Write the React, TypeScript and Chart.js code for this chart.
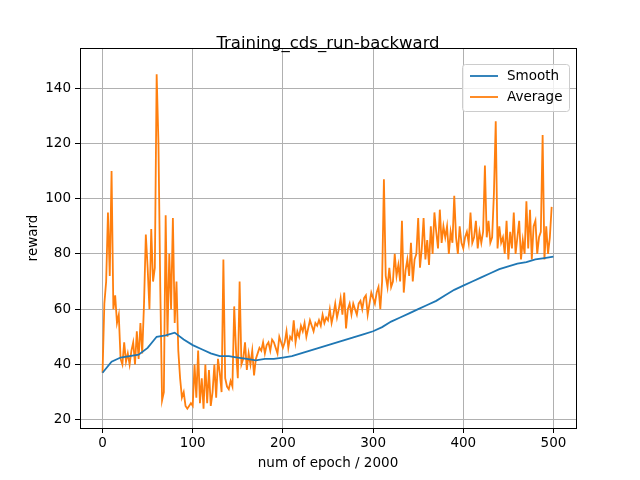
import { useEffect, useRef } from "react";
import { Chart, registerables } from "chart.js";

Chart.register(...registerables);

const avgX: number[] = Array.from({ length: 250 }, (_, i) => i * 2);
const avgY: number[] = [
  37, 62, 70, 95, 72, 110, 60, 65, 55, 58,
  42, 40, 48, 41, 44, 40, 45, 48, 40, 52,
  42, 55, 44, 62, 87, 75, 60, 89, 70, 75,
  145, 120, 68, 27, 30, 94, 50, 80, 60, 93,
  55, 70, 45, 35, 28, 30, 25, 24, 25, 26,
  25, 40, 28, 45, 26, 35, 24, 40, 26, 38,
  25, 30, 40, 28, 42, 37, 30, 78, 35, 32,
  31, 34, 32, 61, 45, 35, 70, 40, 42, 48,
  38, 44, 40, 45, 36, 42, 44, 46, 45, 48,
  44, 47, 48, 45, 49, 48, 46, 44, 50, 48,
  46, 48, 52, 46, 50, 49, 56, 48, 52, 50,
  54, 52, 55, 50, 53, 56, 54, 52, 55, 54,
  56, 54, 58, 55, 57, 56, 60, 55, 58, 62,
  57, 60, 64, 58, 66, 53, 60, 62, 58, 62,
  60, 58, 62, 63, 60, 64, 65, 58, 62, 66,
  64, 62, 66, 68, 60, 70, 107, 72, 68, 75,
  68, 70, 80, 72, 76, 70, 92, 66, 74, 78,
  72, 84, 70, 78, 80, 93, 75, 82, 93, 78,
  85, 76, 90, 80, 95, 88, 82, 96, 84, 90,
  86, 90, 80, 88, 84, 101, 86, 80, 90, 84,
  82, 86, 88, 84, 95, 84, 86, 92, 82, 88,
  84, 88, 112, 86, 92, 84, 86, 102, 128, 82,
  90, 84, 86, 80, 92, 78, 88, 82, 95, 80,
  86, 92, 78, 85, 80, 99, 82, 96, 78, 90,
  92, 80, 86, 88, 123, 78, 90, 80, 86, 97,
];

const smoothX: number[] = Array.from({ length: 51 }, (_, i) => i * 10);
const smoothY: number[] = [
  37, 41, 42.5, 43, 43.5, 46, 50, 50.5, 51.5, 49,
  47, 45.5, 44, 43, 43, 42.5, 42, 41.5, 42, 42,
  42.5, 43, 44, 45, 46, 47, 48, 49, 50, 51,
  52, 53.5, 55.5, 57, 58.5, 60, 61.5, 63, 65, 67,
  68.5, 70, 71.5, 73, 74.5, 75.5, 76.5, 77, 78, 78.5, 79,
];

const FONT = "DejaVu Sans";

const textPlugin = {
  id: "mplText",
  afterDraw(chart: any) {
    const { ctx, chartArea: a } = chart;
    ctx.save();
    // frame (all four spines)
    ctx.strokeStyle = "#000";
    ctx.lineWidth = 1;
    ctx.strokeRect(Math.round(a.left) + 0.5, Math.round(a.top) + 0.5, Math.round(a.right - a.left), Math.round(a.bottom - a.top));
    ctx.fillStyle = "#000";
    ctx.textAlign = "center";
    ctx.textBaseline = "middle";
    ctx.font = `16.5px ${FONT}`;
    ctx.fillText("Training_cds_run-backward", (a.left + a.right) / 2, 44);
    ctx.font = `13.5px ${FONT}`;
    ctx.fillText("num of epoch / 2000", (a.left + a.right) / 2, 463);
    ctx.translate(33, (a.top + a.bottom) / 2);
    ctx.rotate(-Math.PI / 2);
    ctx.fillText("reward", 0, 0);
    ctx.restore();

    // legend box
    ctx.save();
    const bx = 462, by = 64, bw = 107, bh = 47;
    ctx.fillStyle = "rgba(255,255,255,0.8)";
    ctx.strokeStyle = "#cccccc";
    ctx.lineWidth = 1;
    ctx.beginPath();
    ctx.roundRect(bx + 0.5, by + 0.5, bw, bh, 3);
    ctx.fill();
    ctx.stroke();
    ctx.font = `13.5px ${FONT}`;
    ctx.textAlign = "left";
    ctx.textBaseline = "middle";
    chart.data.datasets.forEach((ds: any, i: number) => {
      const y = by + 12 + i * 21;
      ctx.strokeStyle = ds.borderColor;
      ctx.lineWidth = 1.8;
      ctx.beginPath();
      ctx.moveTo(bx + 8, y);
      ctx.lineTo(bx + 36, y);
      ctx.stroke();
      ctx.fillStyle = "#000";
      ctx.fillText(ds.label, bx + 45, y);
    });
    ctx.restore();
  },
};

export default function App() {
  const ref = useRef<HTMLCanvasElement | null>(null);

  useEffect(() => {
    if (!ref.current) return;
    const chart = new Chart(ref.current, {
      type: "line",
      data: {
        datasets: [
          {
            label: "Smooth",
            data: smoothX.map((x, i) => ({ x, y: smoothY[i] })),
            borderColor: "#1f77b4",
            borderWidth: 1.8,
            pointRadius: 0,
            tension: 0,
          },
          {
            label: "Average",
            data: avgX.map((x, i) => ({ x, y: avgY[i] })),
            borderColor: "#ff7f0e",
            borderWidth: 1.8,
            pointRadius: 0,
            tension: 0,
          },
        ],
      },
      options: {
        animation: false,
        responsive: false,
        layout: { padding: { top: 48, right: 64, left: 0, bottom: 0 } },
        plugins: { legend: { display: false }, tooltip: { enabled: false }, title: { display: false } },
        scales: {
          x: {
            type: "linear",
            min: -25,
            max: 525,
            afterFit: (s: any) => { s.height = 52; },
            afterBuildTicks: (s: any) => { s.ticks = [0, 100, 200, 300, 400, 500].map((v) => ({ value: v })); },
            ticks: { color: "#000", font: { family: FONT, size: 13.5 }, maxRotation: 0, padding: 2 },
            grid: { color: "#b0b0b0", tickColor: "#000", tickLength: 5 },
            border: { color: "#000" },
          },
          y: {
            min: 17,
            max: 154.5,
            afterFit: (s: any) => { s.width = 80; },
            afterBuildTicks: (s: any) => { s.ticks = [20, 40, 60, 80, 100, 120, 140].map((v) => ({ value: v })); },
            ticks: { color: "#000", font: { family: FONT, size: 13.5 }, padding: 4 },
            grid: { color: "#b0b0b0", tickColor: "#000", tickLength: 5 },
            border: { color: "#000" },
          },
        },
      },
      plugins: [textPlugin],
    });
    return () => chart.destroy();
  }, []);

  return (
    <div style={{ position: "fixed", left: 0, top: 0, width: 640, height: 480, background: "#fff" }}>
      <canvas ref={ref} width={640} height={480} style={{ width: 640, height: 480 }} />
    </div>
  );
}
